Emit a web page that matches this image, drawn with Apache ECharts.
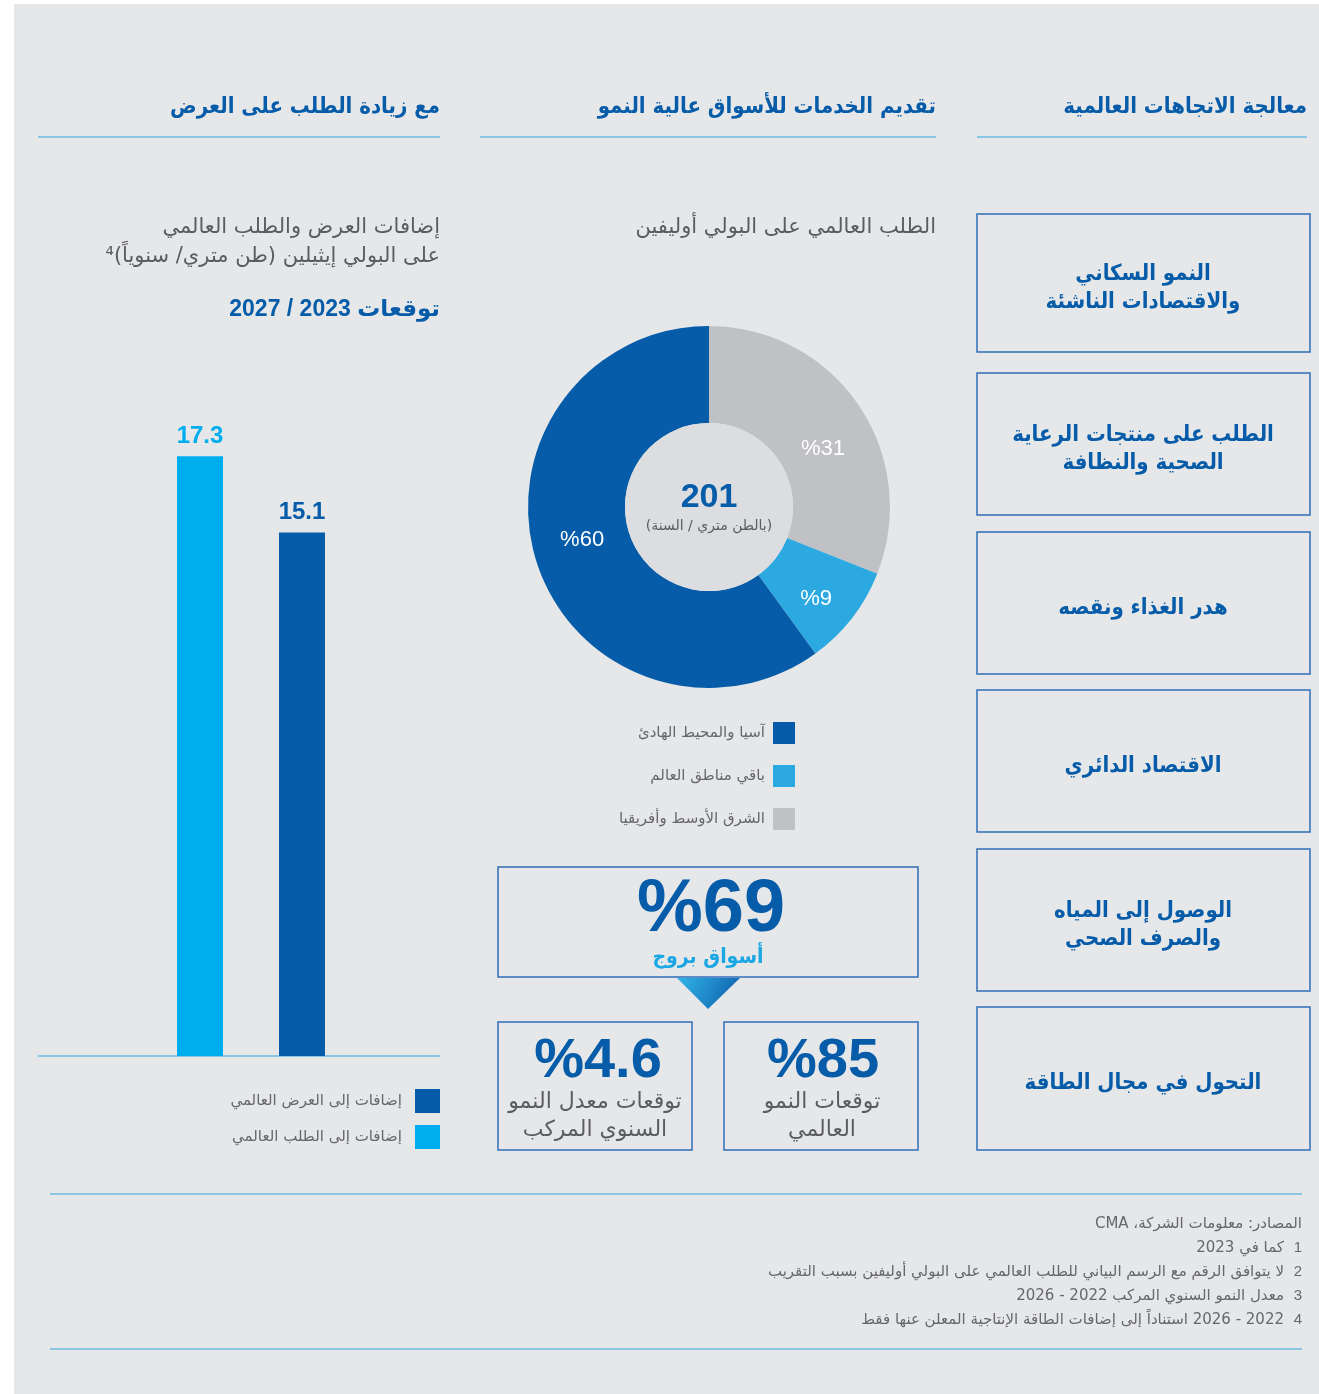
<!DOCTYPE html>
<html lang="ar">
<head>
<meta charset="utf-8">
<script src="https://cdn.jsdelivr.net/npm/echarts@6/dist/echarts.min.js"></script>
<style>
html,body{margin:0;padding:0;background:#ffffff;}
#c{width:1319px;height:1394px;direction:rtl;}
</style>
</head>
<body>
<div id="c"></div>
<script>
// ---- data ----
const barCategories = ['الطلب', 'العرض'];
const demandAdditions = [17.3, '-'];
const supplyAdditions = ['-', 15.1];
const barSeriesNames = ['إضافات إلى الطلب العالمي', 'إضافات إلى العرض العالمي'];

const pieNames = ['الشرق الأوسط وأفريقيا', 'باقي مناطق العالم', 'آسيا والمحيط الهادئ'];
const pieShares = [31, 9, 60];
const pieTotal = 201;

const headlineShare = 69;
const globalGrowthShare = 85;
const cagrShare = 4.6;

const trendItems = [
  ['النمو السكاني', 'والاقتصادات الناشئة'],
  ['الطلب على منتجات الرعاية', 'الصحية والنظافة'],
  ['هدر الغذاء ونقصه'],
  ['الاقتصاد الدائري'],
  ['الوصول إلى المياه', 'والصرف الصحي'],
  ['التحول في مجال الطاقة']
];
const footnotes = [
  ['', 'المصادر: معلومات الشركة، CMA'],
  ['1', 'كما في 2023'],
  ['2', 'لا يتوافق الرقم مع الرسم البياني للطلب العالمي على البولي أوليفين بسبب التقريب'],
  ['3', 'معدل النمو السنوي المركب 2022 - 2026'],
  ['4', '2022 - 2026 استناداً إلى إضافات الطاقة الإنتاجية المعلن عنها فقط']
];

// ---- style ----
const DARK = '#065ca8', LIGHT = '#00aeef', PIE_LIGHT = '#2ba9e0', GRAY = '#c0c1c4';
const LINE = '#2aa5dd', BOX = '#2f6fb6', TXT = '#5b5c5e';
const AR = "'DejaVu Sans', sans-serif";
const ARC = "'DejaVu Sans Condensed','DejaVu Sans', sans-serif";
const NUM = "'Liberation Sans','DejaVu Sans', sans-serif";
const pieLabelOffsets = [[2, 18], [0, 9], [2, -9]];

function T(text, x, y, font, fill, align) {
  return { type: 'text', x: x, y: y, silent: true,
    style: { text: text, font: font, fill: fill, textAlign: align || 'right', textVerticalAlign: 'middle' } };
}
function R(x, y, w, h, stroke, lw) {
  return { type: 'rect', silent: true, shape: { x: x, y: y, width: w, height: h },
    style: { fill: 'none', stroke: stroke, lineWidth: lw || 1.5 } };
}
function L(x1, y1, x2, y2, c, lw) {
  return { type: 'line', silent: true, shape: { x1: x1, y1: y1, x2: x2, y2: y2 }, style: { stroke: c, lineWidth: lw || 1.2 } };
}

const g = [];
// white margins
g.push({ type: 'rect', silent: true, shape: { x: 0, y: 0, width: 14, height: 1394 }, style: { fill: '#fff' } });
g.push({ type: 'rect', silent: true, shape: { x: 0, y: 0, width: 1319, height: 4 }, style: { fill: '#fff' } });

// headers
const HF = "bold 22px " + ARC;
g.push(T('معالجة الاتجاهات العالمية', 1307, 107, HF, DARK));
g.push(T('تقديم الخدمات للأسواق عالية النمو', 936, 107, HF, DARK));
g.push(T('مع زيادة الطلب على العرض', 440, 107, HF, DARK));
g.push(L(977, 137, 1307, 137, LINE));
g.push(L(480, 137, 936, 137, LINE));
g.push(L(38, 137, 440, 137, LINE));

// right column boxes
const boxTops = [214, 373, 532, 690, 849, 1007];
const boxBottoms = [352, 515, 674, 832, 991, 1150];
trendItems.forEach(function (lines, i) {
  g.push(R(977, boxTops[i], 333, boxBottoms[i] - boxTops[i], BOX, 1.5));
  const cy = (boxTops[i] + boxBottoms[i]) / 2 + 5;
  const start = cy - (lines.length - 1) * 14;
  lines.forEach(function (t, j) {
    g.push(T(t, 1143, start + j * 28, "bold 22px " + ARC, DARK, 'center'));
  });
});

// middle column
g.push(T('الطلب العالمي على البولي أوليفين', 936, 228, "21px " + AR, TXT));
// highlight boxes
g.push(R(498, 867, 420, 110, BOX, 1.5));
g.push(T('%' + headlineShare, 711, 911, "bold 74px " + NUM, DARK, 'center'));
g.push(T('أسواق بروج', 708, 958, "bold 21px " + ARC, '#1aa7e4', 'center'));
g.push({ type: 'polygon', silent: true, shape: { points: [[677, 978], [740, 978], [708, 1009]] },
  style: { fill: new echarts.graphic.LinearGradient(0, 0, 1, 1, [{ offset: 0, color: '#33b5ea' }, { offset: 1, color: '#0b5aa6' }]) } });
g.push(R(498, 1022, 194, 128, BOX, 1.5));
g.push(R(724, 1022, 194, 128, BOX, 1.5));
g.push(T('%' + cagrShare, 598, 1062, "bold 56px " + NUM, DARK, 'center'));
g.push(T('%' + globalGrowthShare, 823, 1062, "bold 56px " + NUM, DARK, 'center'));
g.push(T('توقعات معدل النمو', 595, 1102, "22px " + AR, TXT, 'center'));
g.push(T('السنوي المركب', 595, 1130, "22px " + AR, TXT, 'center'));
g.push(T('توقعات النمو', 822, 1102, "22px " + AR, TXT, 'center'));
g.push(T('العالمي', 822, 1130, "22px " + AR, TXT, 'center'));

// left column texts
g.push(T('إضافات العرض والطلب العالمي', 440, 228, "21px " + AR, TXT));
g.push(T('على البولي إيثيلين (طن متري/ سنوياً)⁴', 440, 257, "21px " + AR, TXT));
g.push(T('توقعات 2023 / 2027', 440, 310, "bold 23px " + NUM, DARK));
g.push(L(38, 1056, 440, 1056, LINE));

// footnotes
g.push(L(50, 1194, 1302, 1194, LINE));
g.push(L(50, 1349, 1302, 1349, LINE, 1));
footnotes.forEach(function (f, i) {
  const y = 1224 + i * 24;
  if (f[0]) {
    g.push(T(f[0], 1302, y, "15px " + NUM, '#666769'));
    g.push(T(f[1], 1284, y, "15px " + AR, '#666769'));
  } else {
    g.push(T(f[1], 1302, y, "15px " + AR, '#666769'));
  }
});

const option = {
  backgroundColor: '#e6e7e9',
  animation: false,
  grid: { left: 149, width: 204, top: 380, bottom: 338 },
  xAxis: { type: 'category', data: barCategories, show: false },
  yAxis: { type: 'value', min: 0, max: 19.5, show: false },
  legend: [
    { data: [barSeriesNames[1], barSeriesNames[0]], orient: 'vertical', right: 879, top: 1089, padding: 0,
      align: 'right', itemWidth: 25, itemHeight: 24, itemGap: 12, selectedMode: false,
      icon: 'rect', textStyle: { fontFamily: AR, fontSize: 15, color: '#666769', padding: [0, 8, 0, 0] } },
    { data: [pieNames[2], pieNames[1], pieNames[0]], orient: 'vertical', right: 524, top: 722, padding: 0,
      align: 'right', itemWidth: 22, itemHeight: 22, itemGap: 21, selectedMode: false,
      icon: 'rect', textStyle: { fontFamily: AR, fontSize: 15, color: '#666769', padding: [0, 3, 0, 0] } }
  ],
  series: [
    { name: barSeriesNames[0], type: 'bar', stack: 's', data: demandAdditions, barWidth: 46,
      itemStyle: { color: LIGHT }, silent: true,
      label: { show: true, position: 'top', distance: 8, color: LIGHT, fontFamily: NUM, fontWeight: 'bold', fontSize: 24 } },
    { name: barSeriesNames[1], type: 'bar', stack: 's', data: supplyAdditions, barWidth: 46,
      itemStyle: { color: DARK }, silent: true,
      label: { show: true, position: 'top', distance: 8, color: DARK, fontFamily: NUM, fontWeight: 'bold', fontSize: 24 } },
    { type: 'pie', center: [709, 507], radius: [84, 181], startAngle: 90, clockwise: true, silent: true,
      data: pieNames.map(function (n, i) { return { name: n, value: pieShares[i], label: { offset: pieLabelOffsets[i] } }; }),
      color: [GRAY, PIE_LIGHT, DARK],
      label: { show: true, position: 'inside', formatter: function (p) { return '%' + p.value; },
        color: '#ffffff', fontFamily: NUM, fontSize: 22 },
      labelLine: { show: false } },
    { type: 'pie', center: [709, 507], radius: [0, 84], silent: true, z: 3,
      data: [{ name: 'total', value: pieTotal, itemStyle: { color: '#dcdde0' } }],
      label: { show: true, position: 'center', formatter: '{a|' + pieTotal + '}\n{b|(بالطن متري / السنة)}',
        rich: { a: { fontFamily: NUM, fontWeight: 'bold', fontSize: 34, color: DARK, lineHeight: 38, padding: [4, 0, 0, 0] },
                b: { fontFamily: AR, fontSize: 14, color: TXT, lineHeight: 22 } } },
      labelLine: { show: false } }
  ],
  graphic: g
};
const chart = echarts.init(document.getElementById('c'), null, { renderer: 'canvas' });
chart.setOption(option);
</script>
</body>
</html>
